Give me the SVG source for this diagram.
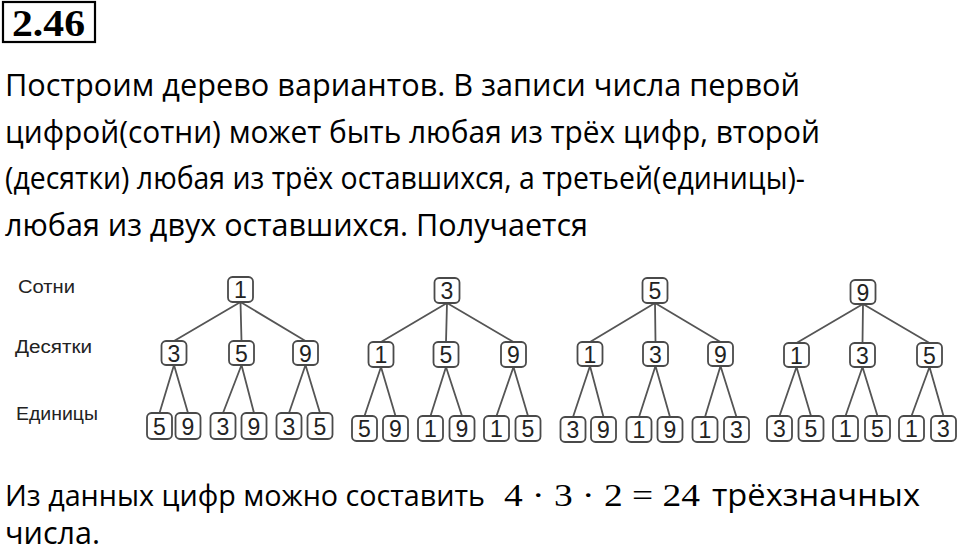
<svg xmlns="http://www.w3.org/2000/svg" width="960" height="553" viewBox="0 0 960 553">
<style>
.para{font-family:"Open Sans","Noto Sans","DejaVu Sans",sans-serif;font-size:31px;fill:#000}
.math{font-family:"Liberation Serif","DejaVu Serif",serif;font-size:32px;fill:#000}
.title{font-family:"Liberation Serif","DejaVu Serif",serif;font-size:38px;font-weight:bold;fill:#000}
.lvl{font-family:"Liberation Sans",Arial,sans-serif;font-size:18px;fill:#222}
.box{fill:#fff;stroke:#4a4a4a;stroke-width:1.8}
.dig{font-family:"Liberation Sans",Arial,sans-serif;font-size:23px;fill:#222;text-anchor:middle}
.edge{stroke:#555;stroke-width:1.8;fill:none}
</style>
<rect width="960" height="553" fill="#fff"/>
<g id="title">
<rect x="3" y="2" width="92" height="40" fill="none" stroke="#000" stroke-width="2.2"/>
<text class="title" x="12" y="36" textLength="73" lengthAdjust="spacingAndGlyphs">2.46</text>
</g>
<g id="paragraph">
<text class="para" x="5" y="96" textLength="795" lengthAdjust="spacingAndGlyphs">Построим дерево вариантов. В записи числа первой</text>
<text class="para" x="5" y="143" textLength="815" lengthAdjust="spacingAndGlyphs">цифрой(сотни) может быть любая из трёх цифр, второй</text>
<text class="para" x="5" y="189" textLength="800" lengthAdjust="spacingAndGlyphs">(десятки) любая из трёх оставшихся, а третьей(единицы)-</text>
<text class="para" x="5" y="236" textLength="583" lengthAdjust="spacingAndGlyphs">любая из двух оставшихся. Получается</text>
</g>
<g id="levels">
<text class="lvl" x="18" y="293" textLength="57" lengthAdjust="spacingAndGlyphs">Сотни</text>
<text class="lvl" x="15" y="353" textLength="77" lengthAdjust="spacingAndGlyphs">Десятки</text>
<text class="lvl" x="16" y="420" textLength="82" lengthAdjust="spacingAndGlyphs">Единицы</text>
</g>
<g id="connectors">
<path class="edge" d="M240.5,302 L174,341 M240.5,302 L241.5,341 M240.5,302 L305.5,341"/>
<path class="edge" d="M174,365 L159.5,413 M174,365 L188,413 M241.5,365 L223,413 M241.5,365 L254,413 M305.5,365 L289,413 M305.5,365 L320,413"/>
<path class="edge" d="M447,303 L381,342 M447,303 L446,342 M447,303 L513.5,342"/>
<path class="edge" d="M381,367 L364.5,416 M381,367 L395.5,416 M446,367 L430.5,416 M446,367 L462,416 M513.5,367 L496.5,416 M513.5,367 L528,416"/>
<path class="edge" d="M655,303 L590,342 M655,303 L655.5,342 M655,303 L720.5,342"/>
<path class="edge" d="M590,366 L573,417 M590,366 L603.5,417 M655.5,366 L639,417 M655.5,366 L670,417 M720.5,366 L705,417 M720.5,366 L736.5,417"/>
<path class="edge" d="M863,304 L796.5,343 M863,304 L862.5,343 M863,304 L929.5,343"/>
<path class="edge" d="M796.5,367 L779.5,416 M796.5,367 L811,416 M862.5,367 L845.5,416 M862.5,367 L877.5,416 M929.5,367 L911.5,416 M929.5,367 L943.5,416"/>
</g>
<g id="t1-root"><rect class="box" x="228" y="277" width="25" height="25" rx="4.5"/><text class="dig" x="240.5" y="298">1</text></g>
<g id="t1-m1"><rect class="box" x="161.5" y="341" width="25" height="24" rx="4.5"/><text class="dig" x="174" y="361.5">3</text></g>
<g id="t1-m2"><rect class="box" x="229" y="341" width="25" height="24" rx="4.5"/><text class="dig" x="241.5" y="361.5">5</text></g>
<g id="t1-m3"><rect class="box" x="293" y="341" width="25" height="24" rx="4.5"/><text class="dig" x="305.5" y="361.5">9</text></g>
<g id="t1-l1"><rect class="box" x="147" y="413" width="25" height="26" rx="4.5"/><text class="dig" x="159.5" y="434.5">5</text></g>
<g id="t1-l2"><rect class="box" x="175.5" y="413" width="25" height="26" rx="4.5"/><text class="dig" x="188" y="434.5">9</text></g>
<g id="t1-l3"><rect class="box" x="210.5" y="413" width="25" height="26" rx="4.5"/><text class="dig" x="223" y="434.5">3</text></g>
<g id="t1-l4"><rect class="box" x="241.5" y="413" width="25" height="26" rx="4.5"/><text class="dig" x="254" y="434.5">9</text></g>
<g id="t1-l5"><rect class="box" x="276.5" y="413" width="25" height="26" rx="4.5"/><text class="dig" x="289" y="434.5">3</text></g>
<g id="t1-l6"><rect class="box" x="307.5" y="413" width="25" height="26" rx="4.5"/><text class="dig" x="320" y="434.5">5</text></g>
<g id="t2-root"><rect class="box" x="434.5" y="278" width="25" height="25" rx="4.5"/><text class="dig" x="447" y="299">3</text></g>
<g id="t2-m1"><rect class="box" x="368.5" y="342" width="25" height="25" rx="4.5"/><text class="dig" x="381" y="363">1</text></g>
<g id="t2-m2"><rect class="box" x="433.5" y="342" width="25" height="25" rx="4.5"/><text class="dig" x="446" y="363">5</text></g>
<g id="t2-m3"><rect class="box" x="501" y="342" width="25" height="25" rx="4.5"/><text class="dig" x="513.5" y="363">9</text></g>
<g id="t2-l1"><rect class="box" x="352" y="416" width="25" height="25" rx="4.5"/><text class="dig" x="364.5" y="437">5</text></g>
<g id="t2-l2"><rect class="box" x="383" y="416" width="25" height="25" rx="4.5"/><text class="dig" x="395.5" y="437">9</text></g>
<g id="t2-l3"><rect class="box" x="418" y="416" width="25" height="25" rx="4.5"/><text class="dig" x="430.5" y="437">1</text></g>
<g id="t2-l4"><rect class="box" x="449.5" y="416" width="25" height="25" rx="4.5"/><text class="dig" x="462" y="437">9</text></g>
<g id="t2-l5"><rect class="box" x="484" y="416" width="25" height="25" rx="4.5"/><text class="dig" x="496.5" y="437">1</text></g>
<g id="t2-l6"><rect class="box" x="515.5" y="416" width="25" height="25" rx="4.5"/><text class="dig" x="528" y="437">5</text></g>
<g id="t3-root"><rect class="box" x="642.5" y="278" width="25" height="25" rx="4.5"/><text class="dig" x="655" y="299">5</text></g>
<g id="t3-m1"><rect class="box" x="577.5" y="342" width="25" height="24" rx="4.5"/><text class="dig" x="590" y="362.5">1</text></g>
<g id="t3-m2"><rect class="box" x="643" y="342" width="25" height="24" rx="4.5"/><text class="dig" x="655.5" y="362.5">3</text></g>
<g id="t3-m3"><rect class="box" x="708" y="342" width="25" height="24" rx="4.5"/><text class="dig" x="720.5" y="362.5">9</text></g>
<g id="t3-l1"><rect class="box" x="560.5" y="417" width="25" height="25" rx="4.5"/><text class="dig" x="573" y="438">3</text></g>
<g id="t3-l2"><rect class="box" x="591" y="417" width="25" height="25" rx="4.5"/><text class="dig" x="603.5" y="438">9</text></g>
<g id="t3-l3"><rect class="box" x="626.5" y="417" width="25" height="25" rx="4.5"/><text class="dig" x="639" y="438">1</text></g>
<g id="t3-l4"><rect class="box" x="657.5" y="417" width="25" height="25" rx="4.5"/><text class="dig" x="670" y="438">9</text></g>
<g id="t3-l5"><rect class="box" x="692.5" y="417" width="25" height="25" rx="4.5"/><text class="dig" x="705" y="438">1</text></g>
<g id="t3-l6"><rect class="box" x="724" y="417" width="25" height="25" rx="4.5"/><text class="dig" x="736.5" y="438">3</text></g>
<g id="t4-root"><rect class="box" x="850.5" y="280" width="25" height="24" rx="4.5"/><text class="dig" x="863" y="300.5">9</text></g>
<g id="t4-m1"><rect class="box" x="784" y="343" width="25" height="24" rx="4.5"/><text class="dig" x="796.5" y="363.5">1</text></g>
<g id="t4-m2"><rect class="box" x="850" y="343" width="25" height="24" rx="4.5"/><text class="dig" x="862.5" y="363.5">3</text></g>
<g id="t4-m3"><rect class="box" x="917" y="343" width="25" height="24" rx="4.5"/><text class="dig" x="929.5" y="363.5">5</text></g>
<g id="t4-l1"><rect class="box" x="767" y="416" width="25" height="25" rx="4.5"/><text class="dig" x="779.5" y="437">3</text></g>
<g id="t4-l2"><rect class="box" x="798.5" y="416" width="25" height="25" rx="4.5"/><text class="dig" x="811" y="437">5</text></g>
<g id="t4-l3"><rect class="box" x="833" y="416" width="25" height="25" rx="4.5"/><text class="dig" x="845.5" y="437">1</text></g>
<g id="t4-l4"><rect class="box" x="865" y="416" width="25" height="25" rx="4.5"/><text class="dig" x="877.5" y="437">5</text></g>
<g id="t4-l5"><rect class="box" x="899" y="416" width="25" height="25" rx="4.5"/><text class="dig" x="911.5" y="437">1</text></g>
<g id="t4-l6"><rect class="box" x="931" y="416" width="25" height="25" rx="4.5"/><text class="dig" x="943.5" y="437">3</text></g>
<g id="conclusion">
<text class="para" x="5" y="506" style="font-size:29px" textLength="480" lengthAdjust="spacingAndGlyphs">Из данных цифр можно составить</text>
<text class="math" x="504" y="506" textLength="196" lengthAdjust="spacingAndGlyphs">4 · 3 · 2 = 24</text>
<text class="para" x="712" y="506" textLength="208" lengthAdjust="spacingAndGlyphs">трёхзначных</text>
<text class="para" x="5" y="544" textLength="95" lengthAdjust="spacingAndGlyphs">числа.</text>
</g>
</svg>
